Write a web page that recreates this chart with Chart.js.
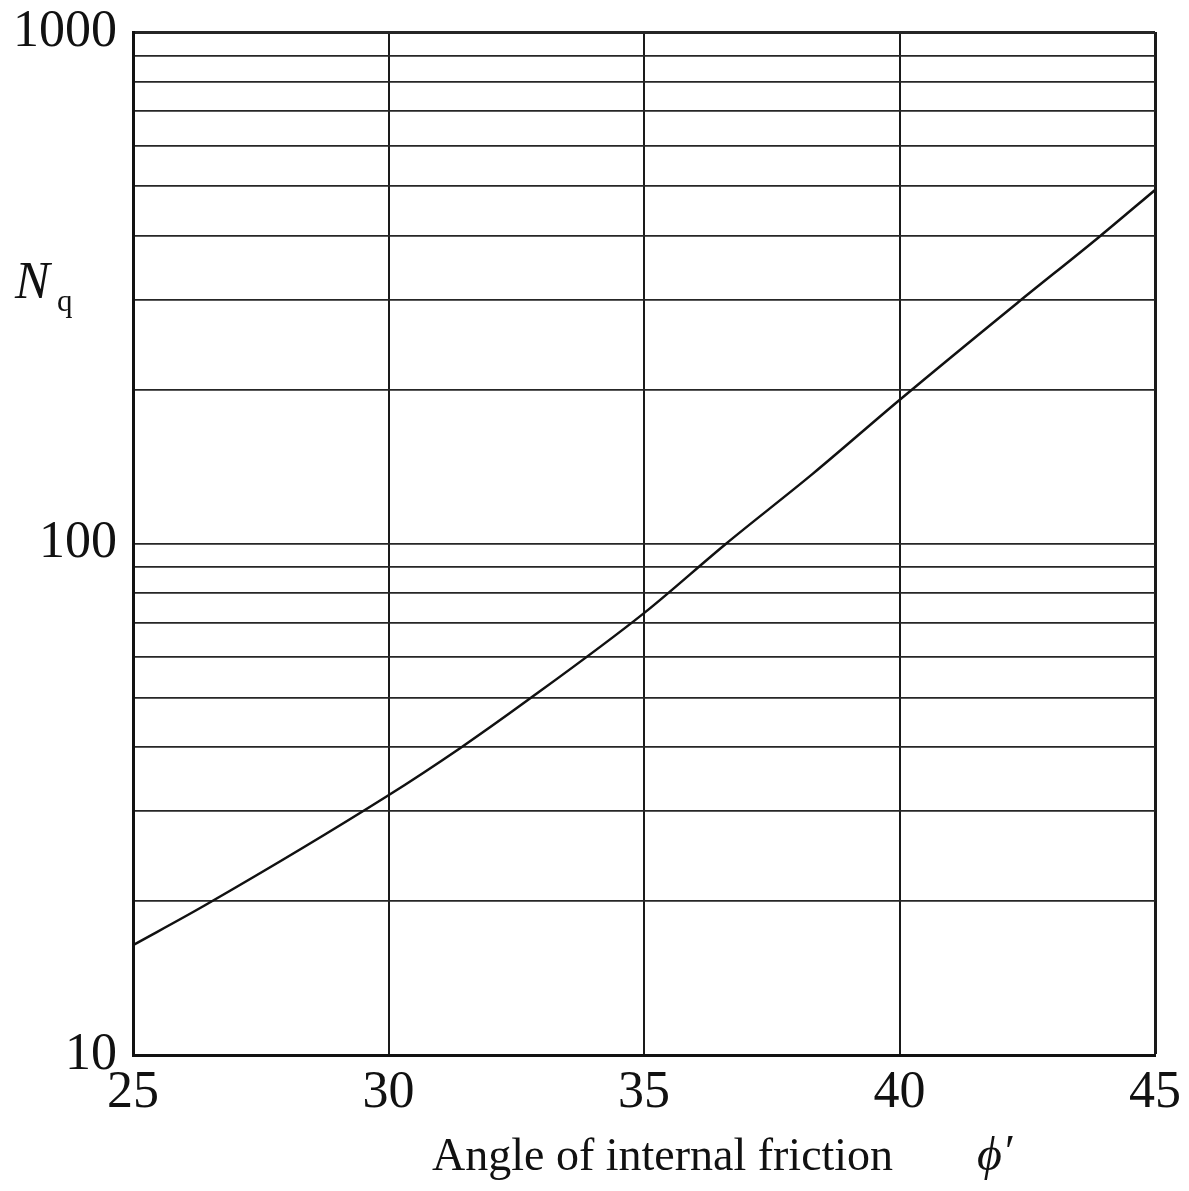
<!DOCTYPE html>
<html>
<head>
<meta charset="utf-8">
<title>Nq vs angle of internal friction</title>
<script src="https://cdn.jsdelivr.net/npm/chart.js@4.4.1/dist/chart.umd.min.js"></script>
<style>
  html, body { margin: 0; padding: 0; background: #fff; }
  #wrap { width: 1189px; height: 1191px; }
</style>
</head>
<body>
<div id="wrap"><canvas id="nqChart" width="1189" height="1191"></canvas></div>
<script>
// values
var phi = [25, 26.4, 30, 31.4, 32.7, 35, 36.6, 38.3, 40, 42.3, 43.9, 45]
var nq = [16.4, 19.6, 32.2, 39.8, 49.2, 73.1, 99.8, 136.8, 190.8, 295, 397, 491]

// axis ticks / grid lines
var xTicks = [25, 30, 35, 40, 45]
var yTicks = [10, 20, 30, 40, 50, 60, 70, 80, 90, 100, 200, 300, 400, 500, 600, 700, 800, 900, 1000]
var yLabels = [10, 100, 1000]

var serif = "'Liberation Serif', 'Times New Roman', serif"

var points = []
for (var i = 0; i < phi.length; i++) {
  points.push({x: phi[i], y: nq[i]})
}

// axis titles are drawn by hand so N can be italic with a subscript q
var axisText = {
  id: 'axisText',
  afterDraw: function(chart) {
    var c = chart.ctx
    var a = chart.chartArea
    c.save()
    c.fillStyle = '#111'
    c.textBaseline = 'alphabetic'
    c.textAlign = 'left'

    c.font = 'italic 52px ' + serif
    c.fillText('N', a.left - 118, a.top + 266)
    c.font = '31px ' + serif
    c.fillText('q', a.left - 76, a.top + 279)

    c.font = '46px ' + serif
    c.fillText('Angle of internal friction', a.left + 299, a.bottom + 115)
    c.font = 'italic 48px ' + serif
    c.fillText('\u03D5', a.left + 844, a.bottom + 115)
    c.font = '46px ' + serif
    c.fillText('\u2032', a.left + 872, a.bottom + 112)
    c.restore()
  }
}

var ctx = document.getElementById('nqChart').getContext('2d')
var nqChart = new Chart(ctx, {
  type: 'line',
  data: {
    datasets: [{
      data: points,
      borderColor: '#111',
      borderWidth: 2.5,
      pointRadius: 0,
      cubicInterpolationMode: 'monotone',
      fill: false
    }]
  },
  options: {
    responsive: false,
    animation: false,
    layout: { padding: { left: 0, right: 34, top: 32, bottom: 0 } },
    plugins: {
      legend: { display: false },
      tooltip: { enabled: false }
    },
    scales: {
      x: {
        type: 'linear',
        min: 25,
        max: 45,
        afterBuildTicks: function(scale) {
          scale.ticks = xTicks.map(function(v) { return {value: v} })
        },
        afterFit: function(scale) { scale.height = 136 },
        ticks: {
          color: '#111',
          font: { family: serif, size: 52 },
          padding: 7,
          maxRotation: 0
        },
        grid: {
          color: '#1a1a1a',
          lineWidth: function(c) { return c.tick && c.tick.value === 45 ? 3 : 2 },
          drawTicks: false
        },
        border: { color: '#111', width: 3 }
      },
      y: {
        type: 'logarithmic',
        min: 10,
        max: 1000,
        afterBuildTicks: function(scale) {
          scale.ticks = yTicks.map(function(v) { return {value: v} })
        },
        afterFit: function(scale) {
          scale.width = 133
          // label overflow is already covered by layout padding
          scale.paddingTop = 0
          scale.paddingBottom = 0
        },
        ticks: {
          color: '#111',
          font: { family: serif, size: 52 },
          padding: 16,
          autoSkip: false,
          callback: function(v) {
            return yLabels.indexOf(v) >= 0 ? String(v) : ''
          }
        },
        grid: {
          color: '#262626',
          lineWidth: function(c) { return c.tick && c.tick.value === 1000 ? 3 : 1.8 },
          drawTicks: false
        },
        border: { color: '#111', width: 3 }
      }
    }
  },
  plugins: [axisText]
})
</script>
</body>
</html>
